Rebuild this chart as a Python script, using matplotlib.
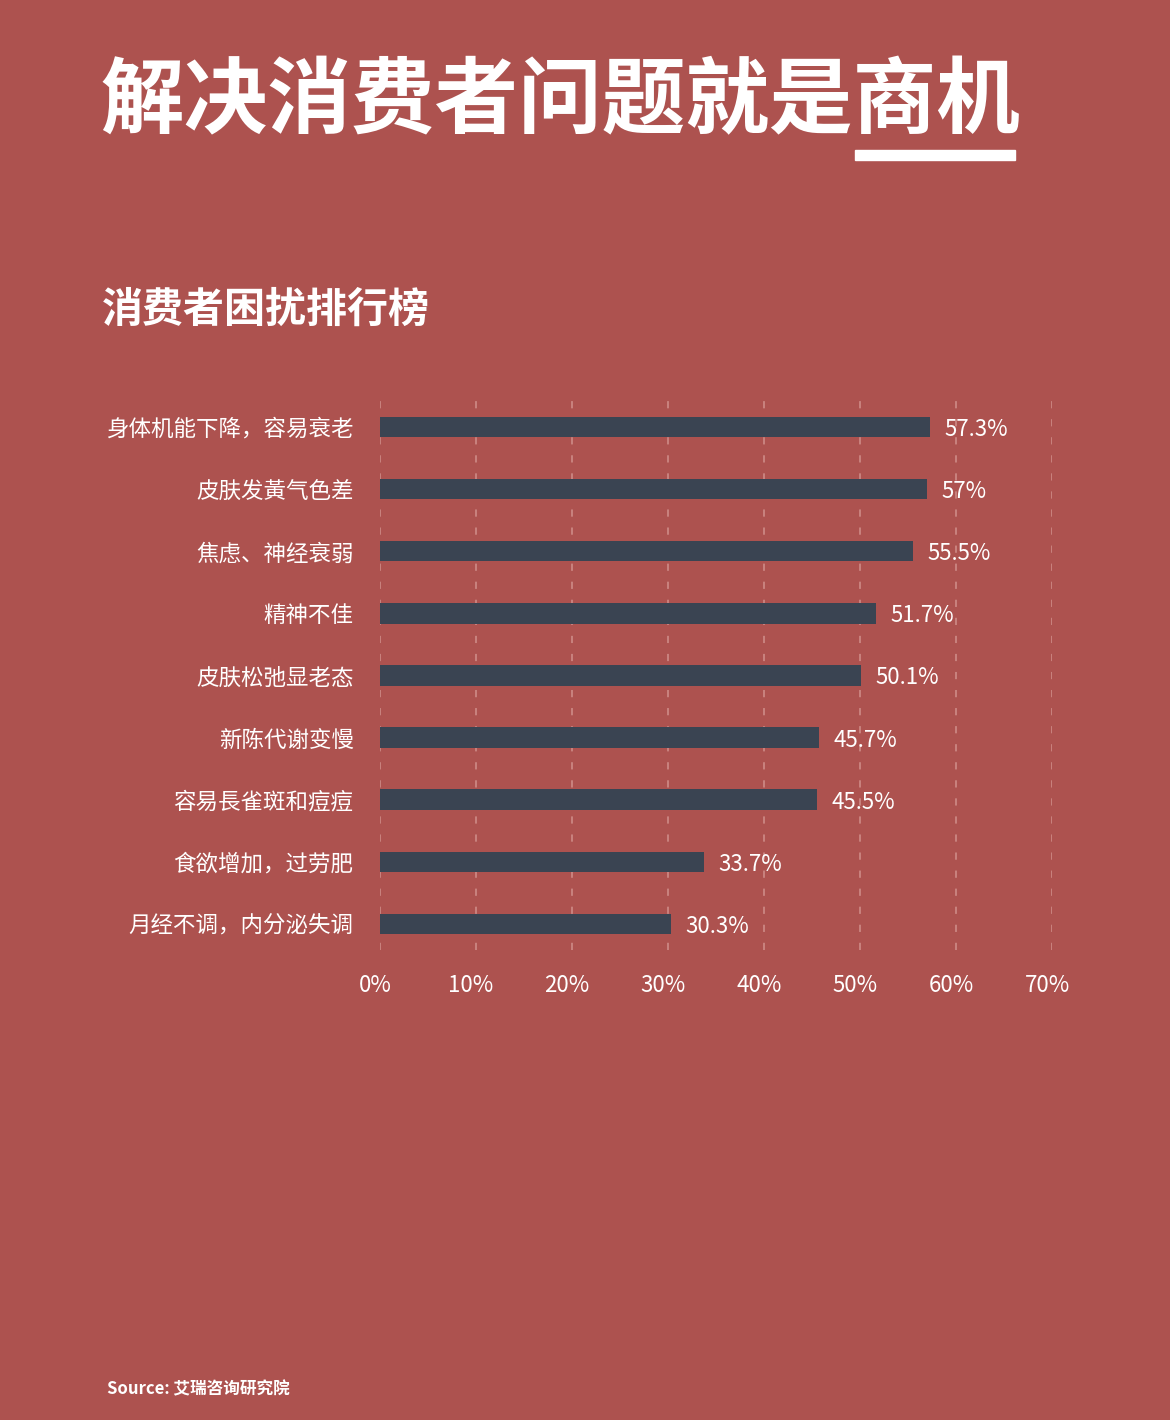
import matplotlib
matplotlib.use('Agg')
import matplotlib.pyplot as plt
import matplotlib.transforms as mtransforms
from matplotlib.patches import Rectangle

plt.rcParams['font.family'] = ['Noto Sans CJK SC', 'DejaVu Sans']

BG = '#ad524f'
BAR = '#3a4452'
GRID = '#cc8783'

# data
categories = ['身体机能下降，容易衰老', '皮肤发黃气色差', '焦虑、神经衰弱', '精神不佳',
              '皮肤松弛显老态', '新陈代谢变慢', '容易長雀斑和痘痘', '食欲增加，过劳肥',
              '月经不调，内分泌失调']
values = [57.3, 57, 55.5, 51.7, 50.1, 45.7, 45.5, 33.7, 30.3]
value_labels = ['57.3%', '57%', '55.5%', '51.7%', '50.1%', '45.7%', '45.5%', '33.7%', '30.3%']
xticks = [0, 10, 20, 30, 40, 50, 60, 70]
xtick_labels = ['0%', '10%', '20%', '30%', '40%', '50%', '60%', '70%']

fig = plt.figure(figsize=(11.7, 14.2), dpi=100, facecolor=BG)

# title
fig.text(100/1170, 1 - 103/1420, '解决消费者问题就是商机', color='white', fontsize=60.2,
         fontweight='heavy', ha='left', va='center')
fig.patches.append(Rectangle((855/1170, 1 - 160/1420), 160/1170, 10/1420,
                             transform=fig.transFigure, color='white', zorder=3))

# subtitle
fig.text(102/1170, 1 - 310/1420, '消费者困扰排行榜', color='white', fontsize=29.5,
         fontweight='bold', ha='left', va='center')

ax = fig.add_axes([380/1170, 1 - 950/1420, 672/1170, 555/1420])
ax.set_facecolor(BG)
pos = list(range(len(categories)))
ax.barh(pos, values, height=0.33, color=BAR, zorder=2)
for p, v, lab in zip(pos, values, value_labels):
    ax.text(v + 1.5, p + 0.04, lab, color='white', fontsize=16, ha='left', va='center')

ax.set_xlim(0, 70)
ax.set_ylim(8.42, -0.515)
ax.set_xticks(xticks)
ax.set_xticklabels(xtick_labels, color='white', fontsize=16)
ax.set_yticks(pos)
ax.set_yticklabels(categories, color='white', fontsize=16.2, fontweight='medium')
ax.tick_params(axis='x', length=0, pad=17)
ax.tick_params(axis='y', length=0, pad=19)
shift = mtransforms.ScaledTranslation(-5/100, 0, fig.dpi_scale_trans)
for lbl in ax.get_xticklabels():
    lbl.set_transform(lbl.get_transform() + shift)
for xt in xticks:
    ax.axvline(xt, color=GRID, lw=1.3, ls=(0, (4, 6)), zorder=1)
for s in ax.spines.values():
    s.set_visible(False)

fig.text(107/1170, 1 - 1389/1420, 'Source: 艾瑞咨询研究院', color='white', fontsize=12,
         fontweight='bold', ha='left', va='center')

fig.savefig('out.png', dpi=100, facecolor=BG)
